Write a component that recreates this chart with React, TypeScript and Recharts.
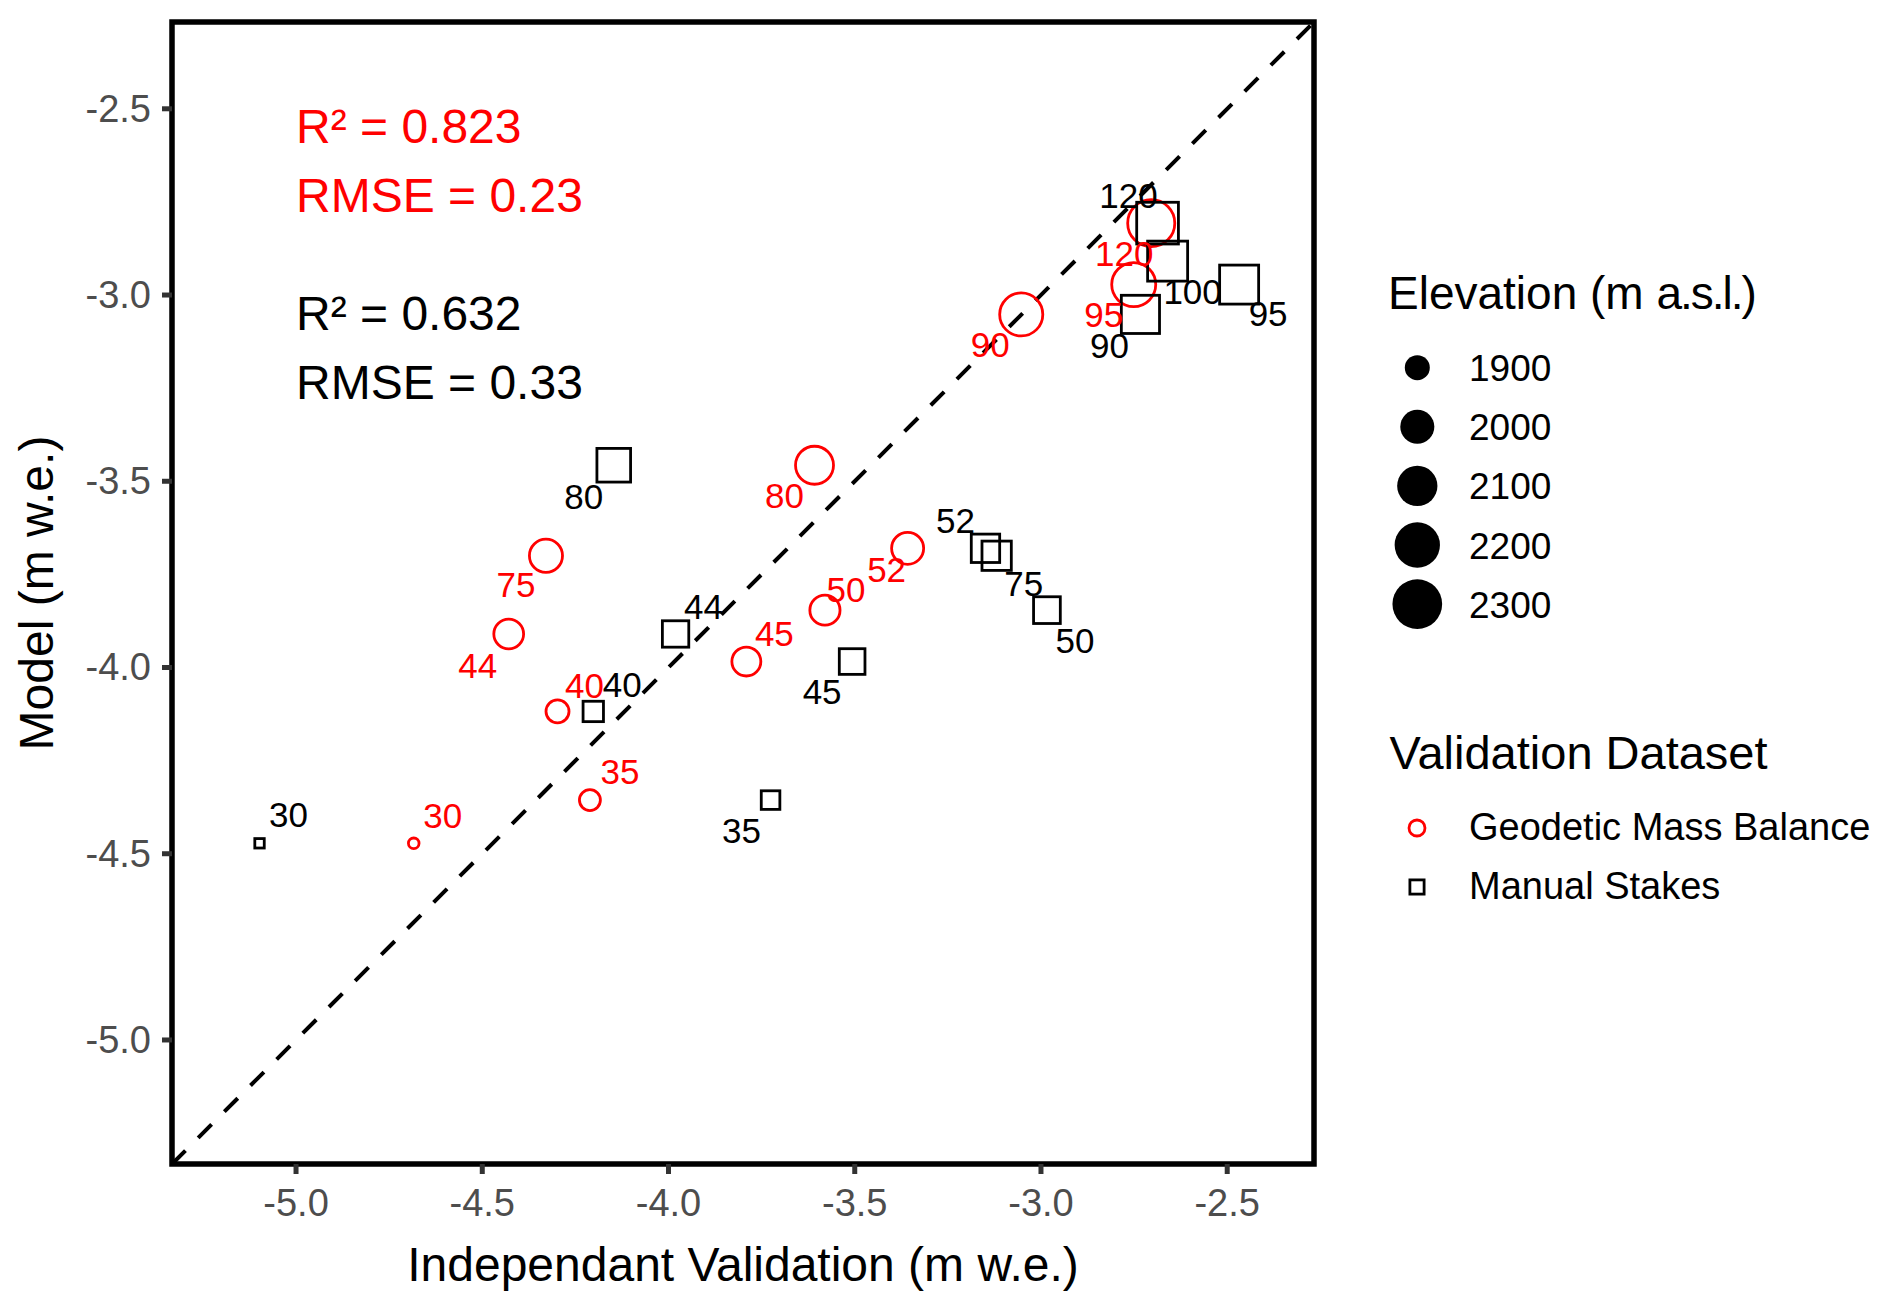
import React from 'react';
import {
  ScatterChart,
  Scatter,
  XAxis,
  YAxis,
  ReferenceLine,
  ReferenceArea,
  ReferenceDot,
  Legend,
} from 'recharts';

// ---------------- data ----------------
const SITES = ['30', '35', '40', '44', '45', '50', '52', '75', '80', '90', '95', '100', '120'];
const MODEL = [-4.472, -4.356, -4.118, -3.91, -3.984, -3.846, -3.68, -3.7, -3.457, -3.052, -2.972, -2.909, -2.807];
const ELEVATION = [1850, 1885, 1900, 1970, 1960, 1975, 2000, 2015, 2095, 2195, 2215, 2240, 2285];
const GEODETIC = [-4.684, -4.211, -4.298, -4.429, -3.791, -3.58, -3.358, -4.329, -3.608, -3.053, -2.751, null, -2.704];
const STAKES = [-5.098, -3.726, -4.202, -3.981, -3.507, -2.984, -3.149, -3.119, -4.147, -2.733, -2.468, -2.66, -2.687];

const AXIS_TICKS = [-5.0, -4.5, -4.0, -3.5, -3.0, -2.5];
const AXIS_DOMAIN: [number, number] = [-5.333, -2.267];
const LEGEND_ELEVATIONS = [1900, 2000, 2100, 2200, 2300];

const ANNOTATION_TEXT = ['R² = 0.823', 'RMSE = 0.23', 'R² = 0.632', 'RMSE = 0.33'];
const ANNOTATION_Y = [-2.592, -2.778, -3.094, -3.279];
const ANNOTATION_X = -5.0;

// label placement (pixel offsets of label centre from the marker)
const GEO_LABEL_OFFSET: Record<string, [number, number]> = {
  '30': [29, -28], '35': [30, -29], '40': [27, -26], '44': [-31, 31], '45': [28, -28],
  '50': [21, -21], '52': [-21, 21], '75': [-30, 29], '80': [-30, 30], '90': [-31, 30],
  '95': [-30, 30], '120': [-27, 30],
};
const STAKE_LABEL_OFFSET: Record<string, [number, number]> = {
  '30': [29, -29], '35': [-29, 30], '40': [29, -27], '44': [28, -28], '45': [-30, 30],
  '50': [28, 30], '52': [-30, -28], '75': [27, 28], '80': [-30, 31], '90': [-31, 31],
  '95': [29, 29], '100': [25, 30], '120': [-29, -28],
};

// ---------------- styles ----------------
const FONT = '"Liberation Sans", Arial, Helvetica, sans-serif';
const RED = '#FF0000';
const BLACK = '#000000';
const TICK_TEXT = '#4D4D4D';
const TICK_LINE = '#333333';

const geoData = SITES.map((site, i) => ({ site, x: GEODETIC[i], y: MODEL[i], elev: ELEVATION[i] })).filter(
  (d) => d.x !== null
);
const stakeData = SITES.map((site, i) => ({ site, x: STAKES[i], y: MODEL[i], elev: ELEVATION[i] }));

// size scale (area-like, sqrt) for elevation
const filledDiameter = (e: number) => 12.65 + 1.747 * Math.sqrt(Math.max(0, e - 1850));
const hollowDiameter = (e: number) => filledDiameter(e) - 2;

const CircleShape = (p: any) => {
  const d = hollowDiameter(p.payload.elev);
  return <circle cx={p.cx} cy={p.cy} r={d / 2} fill="none" stroke={RED} strokeWidth={2.8} />;
};
const SquareShape = (p: any) => {
  const s = hollowDiameter(p.payload.elev) * 0.886;
  return <rect x={p.cx - s / 2} y={p.cy - s / 2} width={s} height={s} fill="none" stroke={BLACK} strokeWidth={2.8} />;
};

const LABEL_FS = 35;
const makeLabel = (offsets: Record<string, [number, number]>, color: string) => (p: any) => {
  const off = offsets[p.payload.site] || [0, 0];
  return (
    <text
      x={p.cx + off[0]}
      y={p.cy + off[1] + LABEL_FS * 0.358}
      textAnchor="middle"
      fontFamily={FONT}
      fontSize={LABEL_FS}
      fill={color}
    >
      {p.payload.site}
    </text>
  );
};
const GeoLabel = makeLabel(GEO_LABEL_OFFSET, RED);
const StakeLabel = makeLabel(STAKE_LABEL_OFFSET, BLACK);

const XTick = (p: any) => (
  <text x={p.x} y={p.y + 40} textAnchor="middle" fontFamily={FONT} fontSize={38} fill={TICK_TEXT}>
    {Number(p.payload.value).toFixed(1)}
  </text>
);
const YTick = (p: any) => (
  <text x={p.x - 9} y={p.y + 13} textAnchor="end" fontFamily={FONT} fontSize={38} fill={TICK_TEXT}>
    {Number(p.payload.value).toFixed(1)}
  </text>
);

const XTitle = (p: any) => {
  const vb = p.viewBox || { x: 164, y: 1156, width: 1142, height: 143 };
  return (
    <text x={vb.x + vb.width / 2} y={vb.y + 117} textAnchor="middle" fontFamily={FONT} fontSize={48} fill={BLACK}>
      Independant Validation (m w.e.)
    </text>
  );
};
const YTitle = (p: any) => {
  const vb = p.viewBox || { x: 0, y: 14, width: 164, height: 1142 };
  const cx = 45;
  const cy = vb.y + vb.height / 2;
  return (
    <text
      x={cx}
      y={cy}
      transform={`rotate(-90 ${cx} ${cy})`}
      textAnchor="middle"
      fontFamily={FONT}
      fontSize={48}
      fill={BLACK}
    >
      Model (m w.e.)
    </text>
  );
};

const LEG_LEFT = 1370;
const LEG_TOP = 250;

const LegendBox = () => (
  <svg width={514} height={680} style={{ display: 'block', overflow: 'visible' }}>
    <text x={10} y={51} fontFamily={FONT} fontSize={46} fill={BLACK}>
      Elevation (m <tspan letterSpacing={-2}>a.s.l.</tspan>)
    </text>
    {LEGEND_ELEVATIONS.map((e, i) => {
      const cy = 109.7 + i * 59.1;
      return (
        <g key={e}>
          <circle cx={39.3} cy={cy} r={filledDiameter(e) / 2} fill={BLACK} />
          <text x={91} y={cy + 13.5} fontFamily={FONT} fontSize={37} fill={BLACK}>
            {e}
          </text>
        </g>
      );
    })}
    <text x={11.6} y={511} fontFamily={FONT} fontSize={47} fill={BLACK}>
      Validation Dataset
    </text>
    <circle cx={39} cy={570} r={8} fill="none" stroke={RED} strokeWidth={2.8} />
    <text x={91} y={582} fontFamily={FONT} fontSize={38} fill={BLACK}>
      Geodetic Mass Balance
    </text>
    <rect x={39 - 7.1} y={629 - 7.1} width={14.2} height={14.2} fill="none" stroke={BLACK} strokeWidth={2.8} />
    <text x={91} y={641} fontFamily={FONT} fontSize={38} fill={BLACK}>
      Manual Stakes
    </text>
  </svg>
);

export default function App() {
  return (
    <div style={{ width: 1884, height: 1299, position: 'relative', background: '#fff' }}>
      <ScatterChart width={1884} height={1299} margin={{ top: 14, right: 578, bottom: 0, left: 0 }}>
        <XAxis
          type="number"
          dataKey="x"
          domain={AXIS_DOMAIN}
          allowDataOverflow
          ticks={AXIS_TICKS}
          interval={0}
          height={143}
          axisLine={false}
          tickLine={{ stroke: TICK_LINE, strokeWidth: 5 }}
          tickSize={10}
          tick={XTick}
          label={XTitle}
        />
        <YAxis
          type="number"
          dataKey="y"
          domain={AXIS_DOMAIN}
          allowDataOverflow
          ticks={AXIS_TICKS}
          interval={0}
          width={164}
          axisLine={false}
          tickLine={{ stroke: TICK_LINE, strokeWidth: 5 }}
          tickSize={10}
          tick={YTick}
          label={YTitle}
        />
        <ReferenceLine
          segment={[
            { x: AXIS_DOMAIN[0], y: AXIS_DOMAIN[0] },
            { x: AXIS_DOMAIN[1], y: AXIS_DOMAIN[1] },
          ]}
          stroke={BLACK}
          strokeWidth={4}
          strokeDasharray="19 18"
          ifOverflow="visible"
        />
        {ANNOTATION_TEXT.map((t, i) => (
          <ReferenceDot
            key={t}
            x={ANNOTATION_X}
            y={ANNOTATION_Y[i]}
            r={0}
            ifOverflow="visible"
            shape={(p: any) => (
              <text x={p.cx} y={p.cy} fontFamily={FONT} fontSize={48} fill={i < 2 ? RED : BLACK}>
                {t}
              </text>
            )}
          />
        ))}
        <Scatter data={geoData} shape={CircleShape} isAnimationActive={false} legendType="none" />
        <Scatter data={stakeData} shape={SquareShape} isAnimationActive={false} legendType="none" />
        <Scatter data={geoData} shape={GeoLabel} isAnimationActive={false} legendType="none" />
        <Scatter data={stakeData} shape={StakeLabel} isAnimationActive={false} legendType="none" />
        <ReferenceArea
          x1={AXIS_DOMAIN[0]}
          x2={AXIS_DOMAIN[1]}
          y1={AXIS_DOMAIN[0]}
          y2={AXIS_DOMAIN[1]}
          fill="none"
          fillOpacity={0}
          stroke={BLACK}
          strokeWidth={5.5}
          ifOverflow="visible"
        />
        <Legend
          layout="vertical"
          align="center"
          verticalAlign="middle"
          wrapperStyle={{ left: LEG_LEFT, top: LEG_TOP, width: 514, height: 680 }}
          content={() => <LegendBox />}
        />
      </ScatterChart>
    </div>
  );
}
